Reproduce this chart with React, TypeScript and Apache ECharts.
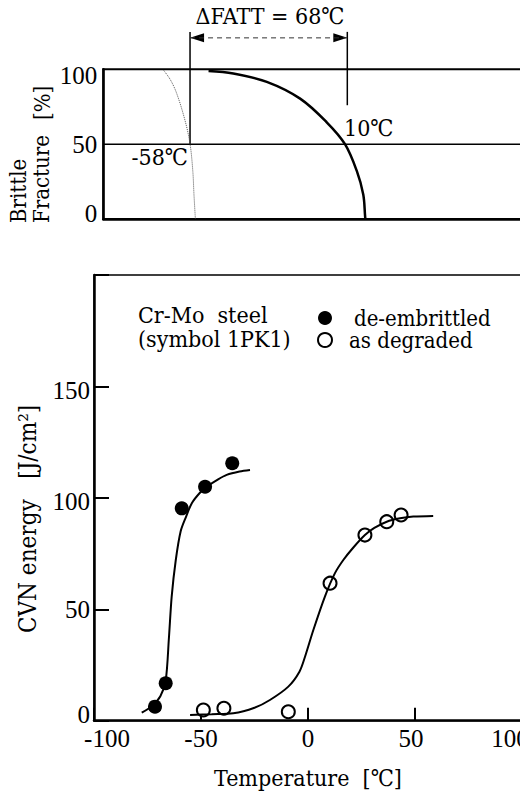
import React, { useEffect, useRef } from "react";
import * as echarts from "echarts";

const F = "DejaVu Serif Condensed";
const N = "Liberation Serif";

// ---- Top panel: brittle fracture [%] vs temperature ----
const fattDeEmb = -58;
const fattDegraded = 10;
const deltaFatt = 68;
const fractureDeEmb: [number, number][] = [
  [-69.5, 99.5], [-66.5, 93], [-63.8, 84], [-60.2, 66], [-58, 50.2],
  [-56.8, 32], [-56.3, 16.4], [-55.8, 2.9], [-55.7, 0],
];
const fractureDegraded: [number, number][] = [
  [-50, 98.8], [-39.3, 97.2], [-24.8, 91.6], [-10.4, 80.4], [1.1, 64.6],
  [9, 50], [14.1, 32.1], [16.9, 16.3], [17.7, 1.8], [17.8, 0],
];
const topYTicks = [0, 50, 100];

// ---- Bottom panel: CVN energy [J/cm2] vs temperature ----
const cvnDeEmb: [number, number][] = [
  [-71.5, 6.3], [-66.5, 16.8], [-59, 95.3], [-48.1, 105], [-35.4, 115.5],
];
const cvnDegraded: [number, number][] = [
  [-48.9, 4.8], [-39.3, 5.6], [-9.2, 4], [10.3, 61.7], [26.6, 83.3],
  [36.8, 89.3], [43.5, 92.3],
];
const fitDeEmb: [number, number][] = [
  [-77.7, 3.6], [-73, 6.5], [-69, 11], [-66.5, 18], [-65, 37], [-63.7, 55.7],
  [-61.8, 72], [-59.5, 85], [-57, 91.5], [-54.3, 97.6], [-50.5, 102.3],
  [-47.3, 105], [-42, 108.3], [-38, 110.3], [-32, 111.8], [-27.1, 112.5],
];
const fitDegraded: [number, number][] = [
  [-55.1, 2.6], [-45, 2.9], [-34.9, 3.3], [-25, 5.8], [-17.8, 9.3],
  [-9.2, 15.3], [-4, 22], [-1.4, 28.7], [2.5, 40.7], [7.9, 55.7],
  [12.6, 66.2], [16.5, 72.1], [21, 77.5], [26.6, 83.3], [31, 86.5],
  [36.8, 89.3], [43, 90.8], [49.2, 91.6], [58.5, 91.9],
];
const xTicks = [-100, -50, 0, 50, 100];
const yTicks = [0, 50, 100, 150];
const arrowLevel = 121; // % level of the ΔFATT dimension arrow

export default function App() {
  const ref = useRef<HTMLDivElement>(null);
  useEffect(() => {
    if (!ref.current) return;
    const chart = echarts.init(ref.current, undefined, { renderer: "svg" });
    const topMin = -95.5;
    const topMax = 85.1;
    const black = "#000";
    const txt = (size: number) => ({ fontFamily: F, fontSize: size, fill: black });
    const lbl = { fontFamily: N, fontSize: 25, color: black };
    const option: any = {
      animation: false,
      backgroundColor: "#fff",
      textStyle: { fontFamily: F, color: black },
      grid: [
        { left: 103.3, top: 69.3, width: 417.7, height: 149.7, show: true, borderColor: black, borderWidth: 2, outerBoundsMode: "none", containLabel: false },
        { left: 94, top: 275, width: 428, height: 445.7, show: true, borderColor: black, borderWidth: 1.5, outerBoundsMode: "none", containLabel: false },
      ],
      xAxis: [
        {
          gridIndex: 0, type: "value", min: topMin, max: topMax,
          axisLine: { show: true, onZero: false, lineStyle: { color: black, width: 2.5 } },
          axisTick: { show: false }, axisLabel: { show: false }, splitLine: { show: false },
        },
        {
          gridIndex: 1, type: "value", min: -100, max: 100, interval: 50,
          axisLine: { show: true, onZero: false, lineStyle: { color: black, width: 2.5 } },
          axisTick: { show: true, inside: true, length: 13, lineStyle: { color: black, width: 2 } },
          axisLabel: {
            ...lbl, margin: 5, hideOverlap: false,
            formatter: (v: number) => {
              if (!xTicks.includes(v)) return "";
              if (v === -100) return `{lo|${v}}`;
              if (v === 100) return `{hi|${v}}`;
              if (v === 50) return `{mid|${v}}`;
              return String(v);
            },
            rich: {
              lo: { ...lbl, padding: [0, 0, 0, 26] },
              hi: { ...lbl, padding: [0, 24, 0, 0] },
              mid: { ...lbl, padding: [0, 8, 0, 0] },
            },
          },
          splitLine: { show: false },
        },
      ],
      yAxis: [
        {
          gridIndex: 0, type: "value", min: 0, max: 100, interval: 50,
          axisLine: { show: true, onZero: false, lineStyle: { color: black, width: 2.5 } },
          axisTick: { show: false },
          axisLabel: {
            ...lbl, margin: 6,
            formatter: (v: number) => {
              if (!topYTicks.includes(v)) return "";
              if (v === 0) return `{lo|${v}}`;
              if (v === 100) return `{hi|${v}}`;
              return String(v);
            },
            rich: {
              lo: { ...lbl, padding: [0, 0, 12, 0] },
              hi: { ...lbl, padding: [12, 0, 0, 0] },
            },
          },
          splitLine: { show: false },
        },
        {
          gridIndex: 1, type: "value", min: 0, max: 200, interval: 50,
          axisLine: { show: true, onZero: false, lineStyle: { color: black, width: 2.5 } },
          axisTick: { show: true, inside: true, length: 15, lineStyle: { color: black, width: 2 } },
          axisLabel: {
            ...lbl, margin: 4,
            formatter: (v: number) => {
              if (!yTicks.includes(v)) return "";
              if (v === 0) return `{lo|${v}}`;
              if (v >= 100) return `{hi|${v}}`;
              return String(v);
            },
            rich: {
              lo: { ...lbl, padding: [0, 0, 12, 0] },
              hi: { ...lbl, padding: [8, 0, 0, 0] },
            },
          },
          splitLine: { show: false },
        },
      ],
      legend: {
        left: 317, top: 307, padding: 0, orient: "vertical", itemGap: 0,
        itemWidth: 14, itemHeight: 14,
        textStyle: { fontFamily: F, fontSize: 22, lineHeight: 21, color: black },
        data: [
          { name: "de-embrittled", icon: "circle", textStyle: { padding: [0, 0, 0, 17] } },
          { name: "as degraded", icon: "circle", textStyle: { padding: [0, 0, 0, 12] } },
        ],
        selectedMode: false,
      },
      series: [
        {
          name: "50%", type: "line", xAxisIndex: 0, yAxisIndex: 0, symbol: "none", silent: true,
          data: [[topMin, 50], [topMax, 50]],
          lineStyle: { color: black, width: 1.5 },
        },
        {
          name: "vline1", type: "line", xAxisIndex: 0, yAxisIndex: 0, symbol: "none", silent: true, clip: false,
          data: [[fattDeEmb, 125], [fattDeEmb, 50]],
          lineStyle: { color: black, width: 1.5 },
        },
        {
          name: "vline2", type: "line", xAxisIndex: 0, yAxisIndex: 0, symbol: "none", silent: true, clip: false,
          data: [[fattDegraded, 125], [fattDegraded, 76]],
          lineStyle: { color: black, width: 1.5 },
        },
        {
          name: "arrow", type: "line", xAxisIndex: 0, yAxisIndex: 0, symbol: "none", silent: true, clip: false,
          data: [[fattDeEmb, arrowLevel], [fattDegraded, arrowLevel]],
          lineStyle: { color: "#333", width: 1, type: [5, 4] },
        },
        {
          name: "fracture de-embrittled", type: "line", xAxisIndex: 0, yAxisIndex: 0, symbol: "none", silent: true,
          smooth: 0.35, data: fractureDeEmb,
          lineStyle: { color: "#555", width: 1, type: "dotted" },
        },
        {
          name: "fracture degraded", type: "line", xAxisIndex: 0, yAxisIndex: 0, symbol: "none", silent: true,
          smooth: 0.35, data: fractureDegraded,
          lineStyle: { color: black, width: 2.5 },
        },
        {
          name: "fit de-embrittled", type: "line", xAxisIndex: 1, yAxisIndex: 1, symbol: "none", silent: true,
          smooth: 0.3, data: fitDeEmb, lineStyle: { color: black, width: 2 },
        },
        {
          name: "fit degraded", type: "line", xAxisIndex: 1, yAxisIndex: 1, symbol: "none", silent: true,
          smooth: 0.3, data: fitDegraded, lineStyle: { color: black, width: 2 },
        },
        {
          name: "de-embrittled", type: "scatter", xAxisIndex: 1, yAxisIndex: 1, silent: true,
          symbol: "circle", symbolSize: 14, data: cvnDeEmb,
          itemStyle: { color: black, opacity: 1 },
        },
        {
          name: "as degraded", type: "scatter", xAxisIndex: 1, yAxisIndex: 1, silent: true,
          symbol: "circle", symbolSize: 13, data: cvnDegraded,
          itemStyle: { color: "#fff", borderColor: black, borderWidth: 2, opacity: 1 },
        },
      ],
      graphic: [
        { id: "t1", type: "text", x: 270, y: 16, style: { text: `ΔFATT = ${deltaFatt}℃`, ...txt(23), textAlign: "center", textVerticalAlign: "middle" } },
        { id: "t2", type: "text", x: 188, y: 157, style: { text: `${fattDeEmb}℃`, ...txt(23), textAlign: "right", textVerticalAlign: "middle" } },
        { id: "t3", type: "text", x: 344, y: 128, style: { text: `${fattDegraded}℃`, ...txt(23), textAlign: "left", textVerticalAlign: "middle" } },
        { id: "t4", type: "text", x: 18.5, y: 223, rotation: Math.PI / 2, style: { text: "Brittle", ...txt(22), textAlign: "left", textVerticalAlign: "middle" } },
        { id: "t5", type: "text", x: 41, y: 223, rotation: Math.PI / 2, style: { text: "Fracture", ...txt(22), textAlign: "left", textVerticalAlign: "middle" } },
        { id: "t6", type: "text", x: 42, y: 120, rotation: Math.PI / 2, style: { text: "[%]", ...txt(22), textAlign: "left", textVerticalAlign: "middle" } },
        { id: "t7", type: "text", x: 138, y: 315, style: { text: "Cr-Mo  steel", ...txt(23), textAlign: "left", textVerticalAlign: "middle" } },
        { id: "t8", type: "text", x: 138, y: 339, style: { text: "(symbol 1PK1)", ...txt(23), textAlign: "left", textVerticalAlign: "middle" } },
        { id: "t9", type: "text", x: 28, y: 633, rotation: Math.PI / 2, style: { text: "CVN energy   [J/cm²]", ...txt(24), textAlign: "left", textVerticalAlign: "middle" } },
        { id: "t10", type: "text", x: 308, y: 778, style: { text: "Temperature  [℃]", ...txt(23), textAlign: "center", textVerticalAlign: "middle" } },
      ],
    };
    chart.setOption(option);
    // arrowheads of the ΔFATT dimension line, placed through the axis scale
    const pL = chart.convertToPixel({ xAxisIndex: 0, yAxisIndex: 0 }, [fattDeEmb, arrowLevel]) as number[];
    const pR = chart.convertToPixel({ xAxisIndex: 0, yAxisIndex: 0 }, [fattDegraded, arrowLevel]) as number[];
    if (pL && pR) {
      const L = 14, H = 4.5;
      chart.setOption({
        graphic: [
          { id: "aL", type: "polygon", shape: { points: [[pL[0], pL[1]], [pL[0] + L, pL[1] - H], [pL[0] + L, pL[1] + H]] }, style: { fill: black } },
          { id: "aR", type: "polygon", shape: { points: [[pR[0], pR[1]], [pR[0] - L, pR[1] - H], [pR[0] - L, pR[1] + H]] }, style: { fill: black } },
        ],
      });
    }
    return () => chart.dispose();
  }, []);
  return (
    <div
      ref={ref}
      style={{ position: "absolute", left: 0, top: 0, width: 520, height: 796, background: "#fff" }}
    />
  );
}
